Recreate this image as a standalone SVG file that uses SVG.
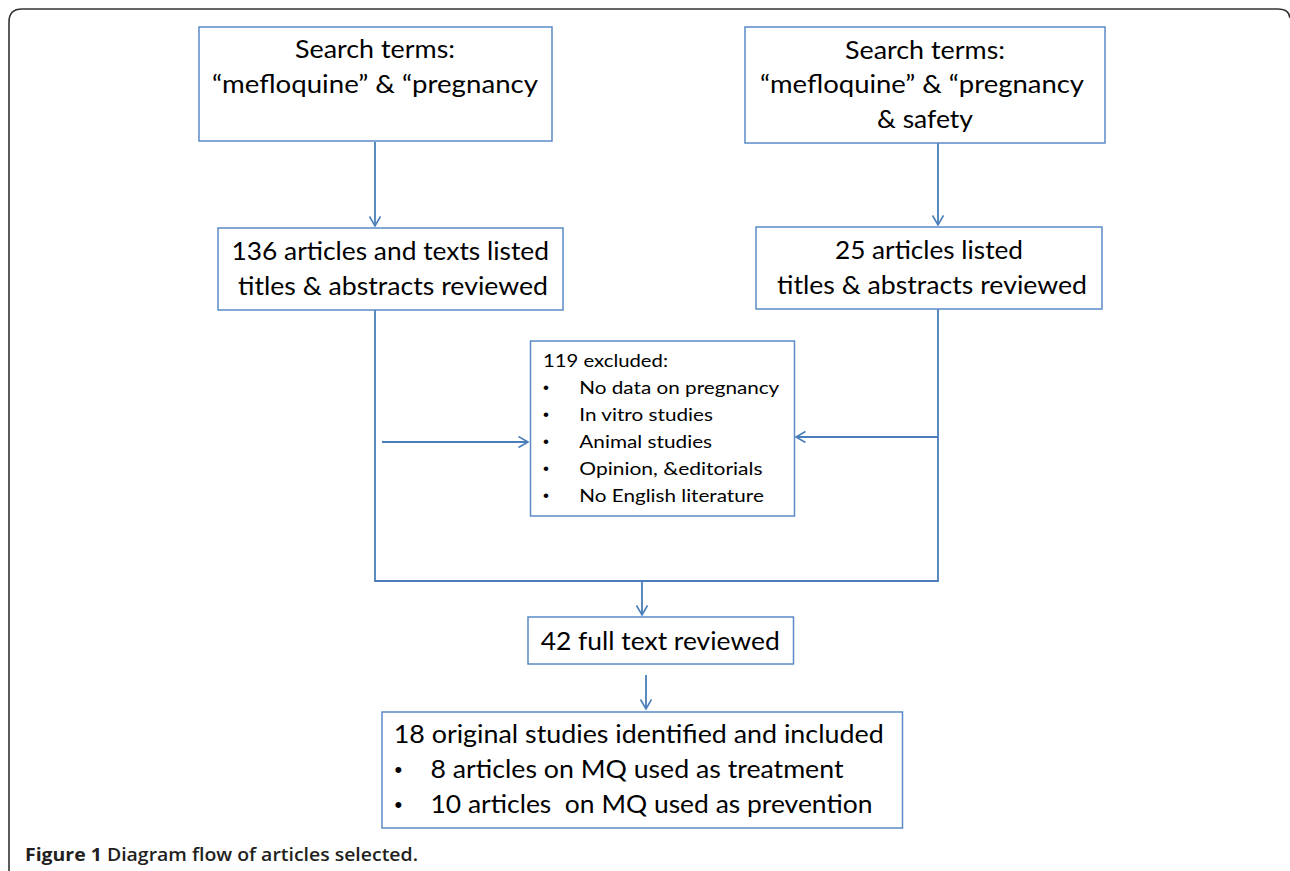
<svg xmlns="http://www.w3.org/2000/svg" width="1290" height="871" viewBox="0 0 1290 871">
<style>
.box{fill:#fff;stroke:#5B8AC6;stroke-width:1.5}
.t{font-family:Lato,"Open Sans","Liberation Sans",sans-serif;font-size:25px;fill:#000;white-space:pre}
.s{font-family:Lato,"Open Sans","Liberation Sans",sans-serif;font-size:18px;fill:#000;white-space:pre}
.b{font-family:"Liberation Sans",sans-serif;fill:#000}
.c{fill:none;stroke:#4A7EBB;stroke-width:1.8}
.cap{font-family:"Open Sans","Liberation Sans",sans-serif;font-size:18px;font-weight:bold;fill:#231F20}
</style>
<defs>
<marker id="ah" markerUnits="userSpaceOnUse" markerWidth="14" markerHeight="14" refX="10" refY="6" orient="auto">
<path d="M0.5,0.5 L10,6 L0.5,11.5" fill="none" stroke="#4A7EBB" stroke-width="1.6"/>
</marker>
</defs>
<rect width="1290" height="871" fill="#fff"/>
<path d="M9,871 V22 Q9,9 22,9 H1278 Q1289,9 1290,18" fill="none" stroke="#333" stroke-width="1.6"/>

<g id="connectors">
<path class="c" d="M375,142 V226" marker-end="url(#ah)"/>
<path class="c" d="M938,143 V225" marker-end="url(#ah)"/>
<path class="c" d="M375,310 V581 H938 V309"/>
<path class="c" d="M382,442 H528" marker-end="url(#ah)"/>
<path class="c" d="M938,437 H796" marker-end="url(#ah)"/>
<path class="c" d="M642,581 V615" marker-end="url(#ah)"/>
<path class="c" d="M646,675 V709" marker-end="url(#ah)"/>
</g>

<g id="nodeA">
<rect class="box" x="199" y="27" width="353" height="114"/>
<text class="t" x="295" y="58" textLength="160" lengthAdjust="spacingAndGlyphs">Search terms:</text>
<text class="t" x="212" y="93" textLength="326" lengthAdjust="spacingAndGlyphs">“mefloquine” &amp; “pregnancy</text>
</g>

<g id="nodeB">
<rect class="box" x="745" y="27" width="360" height="116"/>
<text class="t" x="845" y="59" textLength="160" lengthAdjust="spacingAndGlyphs">Search terms:</text>
<text class="t" x="760" y="93" textLength="324" lengthAdjust="spacingAndGlyphs">“mefloquine” &amp; “pregnancy</text>
<text class="t" x="877" y="128" textLength="96" lengthAdjust="spacingAndGlyphs">&amp; safety</text>
</g>

<g id="nodeC">
<rect class="box" x="218" y="228" width="345" height="82"/>
<text class="t" x="231.5" y="260" textLength="317.5" lengthAdjust="spacingAndGlyphs">136 articles and texts listed</text>
<text class="t" x="238" y="295" textLength="310" lengthAdjust="spacingAndGlyphs">titles &amp; abstracts reviewed</text>
</g>

<g id="nodeD">
<rect class="box" x="756" y="227" width="346" height="82"/>
<text class="t" x="835" y="259" textLength="188" lengthAdjust="spacingAndGlyphs">25 articles listed</text>
<text class="t" x="777" y="294" textLength="310" lengthAdjust="spacingAndGlyphs">titles &amp; abstracts reviewed</text>
</g>

<g id="nodeE">
<rect class="box" x="530.5" y="341" width="264" height="175"/>
<text class="s" x="543" y="367" textLength="125" lengthAdjust="spacingAndGlyphs">119 excluded:</text>
<text class="b" x="543" y="393" font-size="17">•</text>
<text class="s" x="579.3" y="394" textLength="200" lengthAdjust="spacingAndGlyphs">No data on pregnancy</text>
<text class="b" x="543" y="420" font-size="17">•</text>
<text class="s" x="579.3" y="421" textLength="133.6" lengthAdjust="spacingAndGlyphs">In vitro studies</text>
<text class="b" x="543" y="447" font-size="17">•</text>
<text class="s" x="579.3" y="448" textLength="132.8" lengthAdjust="spacingAndGlyphs">Animal studies</text>
<text class="b" x="543" y="474" font-size="17">•</text>
<text class="s" x="579.3" y="475" textLength="183.3" lengthAdjust="spacingAndGlyphs">Opinion, &amp;editorials</text>
<text class="b" x="543" y="501" font-size="17">•</text>
<text class="s" x="579.3" y="502" textLength="184.5" lengthAdjust="spacingAndGlyphs">No English literature</text>
</g>

<g id="nodeF">
<rect class="box" x="528" y="617" width="265.5" height="47"/>
<text class="t" x="540.7" y="650" textLength="239" lengthAdjust="spacingAndGlyphs">42 full text reviewed</text>
</g>

<g id="nodeG">
<rect class="box" x="382" y="712" width="520.5" height="116"/>
<text class="t" x="393.7" y="743" textLength="490" lengthAdjust="spacingAndGlyphs">18 original studies identified and included</text>
<text class="b" x="394.5" y="777" font-size="22">•</text>
<text class="t" x="430.5" y="778" textLength="413" lengthAdjust="spacingAndGlyphs">8 articles on MQ used as treatment</text>
<text class="b" x="394.5" y="812" font-size="22">•</text>
<text class="t" x="430.5" y="813" textLength="442" lengthAdjust="spacingAndGlyphs">10 articles  on MQ used as prevention</text>
</g>

<text class="cap" x="25" y="861" textLength="393" lengthAdjust="spacingAndGlyphs"><tspan>Figure 1</tspan><tspan font-weight="600"> Diagram flow of articles selected.</tspan></text>
</svg>
